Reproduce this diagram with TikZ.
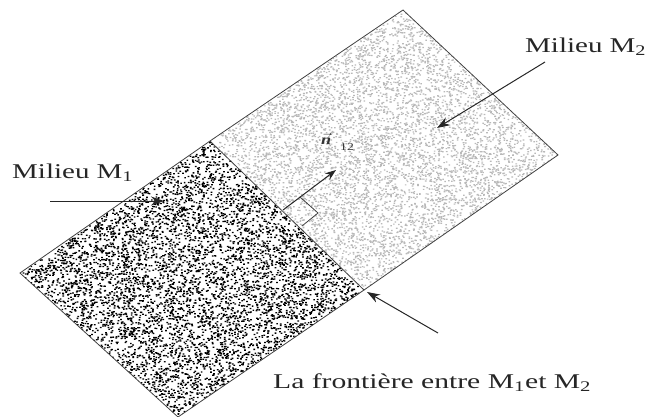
\documentclass[tikz,border=0pt]{standalone}
\usepackage{fontspec}
\setmainfont{Liberation Serif}
\usetikzlibrary{arrows.meta}
\begin{document}
\begin{tikzpicture}[x=1pt,y=-1pt,
  edge/.style={draw=black!75, line width=0.8pt},
  pointer/.style={draw=black!85, line width=1pt, -{Stealth[length=13pt,width=9pt]}},
  lbl/.style={inner sep=0pt, anchor=base west, text=black!85, font=\fontsize{21}{25}\selectfont}]
\useasboundingbox (0,0) rectangle (645,416);
\pgfmathsetseed{7}
% corners
\coordinate (L) at (20,273);
\coordinate (T) at (210,141);
\coordinate (R) at (364,290);
\coordinate (B) at (178,417);
\coordinate (Tp) at (403,10);
\coordinate (Rt) at (558,155);
% M2 texture
\begin{scope}
\clip (T) -- (Tp) -- (Rt) -- (R) -- cycle;
\foreach \kk in {1,...,12}{
\fill[gray!55] \foreach \ii [evaluate=\ii as \uu using rnd, evaluate=\ii as \vv using rnd] in {1,...,500}
  { ({210+193*\uu+153*\vv+2*\uu*\vv},{141-131*\uu+149*\vv-5*\uu*\vv}) rectangle +(1.6,1.2) };
}
\end{scope}
% M1 texture
\begin{scope}
\clip (L) -- (T) -- (R) -- (B) -- cycle;
\foreach \kk in {1,...,12}{
\fill[black] \foreach \ii [evaluate=\ii as \uu using rnd, evaluate=\ii as \vv using rnd] in {1,...,500}
  { ({20+190*\uu+158*\vv-6*\uu*\vv},{273-132*\uu+144*\vv+5*\uu*\vv}) rectangle +(1.7,1.3) };
}
\end{scope}
% outlines
\draw[edge] (L) -- (T) -- (R) -- (B) -- cycle;
\draw[edge] (T) -- (Tp) -- (Rt) -- (R);
% normal vector with right-angle mark
\coordinate (F) at (283,210);
\coordinate (Ntip) at (336,170);
\coordinate (P1) at (300,197);
\coordinate (P2) at (318,213);
\coordinate (P3) at (302,226);
\draw[pointer, -{Stealth[length=11pt,width=8pt]}] (F) -- (Ntip);
\draw[edge, line width=0.8pt] (P1) -- (P2) -- (P3);
\node[inner sep=0pt, anchor=base west, text=black!80, font=\fontsize{14}{16}\selectfont] (nvec) at (321,144) {\scalebox{1.3}[1]{$\vec{\textbf{\textit{n}}}$}};
\node[inner sep=0pt, anchor=base west, text=black!80, font=\fontsize{10.5}{12}\selectfont] (nsub) at (340,150) {\scalebox{1.3}[1]{12}};
% labels
\node[lbl] (m1label) at (12,178) {\scalebox{1.38}[1]{Milieu M\textsubscript{1}}};
\node[lbl] (m2label) at (525,52) {\scalebox{1.38}[1]{Milieu M\textsubscript{2}}};
\node[lbl] (frlabel) at (273,388) {\scalebox{1.41}[1]{La frontière entre M\textsubscript{1}et M\textsubscript{2}}};
% pointers
\coordinate (m1start) at (50,201);
\coordinate (m1tip) at (164,201);
\coordinate (m2start) at (545,62);
\coordinate (m2tip) at (437,128);
\coordinate (frstart) at (438,333);
\coordinate (frtip) at (367,292);
\draw[pointer] (m1start) -- (m1tip);
\draw[pointer] (m2start) -- (m2tip);
\draw[pointer] (frstart) -- (frtip);
\end{tikzpicture}
\end{document}
